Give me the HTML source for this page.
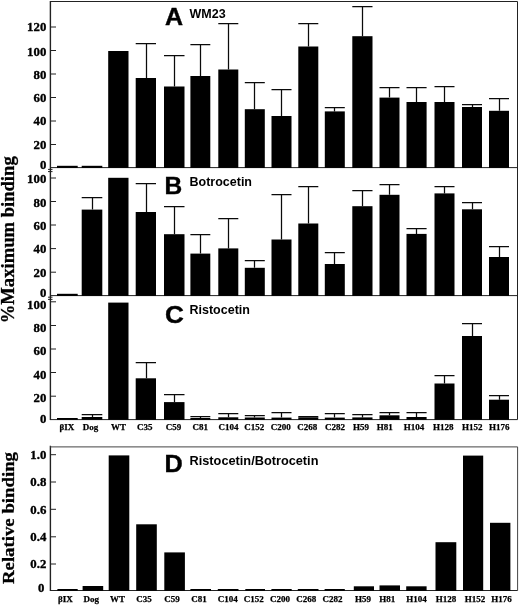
<!DOCTYPE html>
<html><head><meta charset="utf-8"><title>Figure</title>
<style>html,body{margin:0;padding:0;background:#fff}svg{display:block}</style></head>
<body>
<svg width="520" height="605" viewBox="0 0 520 605">
<rect width="520" height="605" fill="#fff"/>
<g stroke="#222" stroke-width="1" fill="none">
<path d="M50.4 1 V420 M50.4 445.8 V591" stroke-width="1.4"/>
<path d="M50 1.5 H517.5 V419.6 H50"/>
<path d="M50 167.6 H517.5 M50 295.6 H517.5"/>
<path d="M50 446.9 H517.6 V590.5" stroke="#444"/>
<path d="M50 590.5 H517.6"/>
<path d="M50 27 H56 M50 50.5 H56 M50 74 H56 M50 97.5 H56 M50 121 H56 M50 144.5 H56 "/>
<path d="M50 178 H56 M50 201.5 H56 M50 225 H56 M50 248.6 H56 M50 272.2 H56 "/>
<path d="M50 301.8 H56 M50 325.5 H56 M50 349 H56 M50 372.5 H56 M50 396.2 H56 "/>
<path d="M50 454.7 H56 M50 482 H56 M50 509.3 H56 M50 536.8 H56 M50 564 H56 "/>
<path d="M48 169.4 H52.5 M48 171.6 H52.5 M48 297.2 H52.5 M48 299.4 H52.5"/>
</g>
<g fill="#000">
<rect x="57" y="165.8" width="20.7" height="2.1"/>
<rect x="81.7" y="165.8" width="20.6" height="2.1"/>
<rect x="108.2" y="51" width="20.3" height="116.9"/>
<rect x="135.7" y="78" width="20.3" height="89.9"/>
<rect x="164" y="86.5" width="20.5" height="81.4"/>
<rect x="190.4" y="76" width="19.9" height="91.9"/>
<rect x="218.3" y="69.5" width="20.0" height="98.4"/>
<rect x="244.8" y="109.2" width="20.0" height="58.7"/>
<rect x="271.5" y="116" width="20.0" height="51.9"/>
<rect x="298.3" y="46.5" width="20.0" height="121.4"/>
<rect x="324.8" y="111.4" width="20.0" height="56.5"/>
<rect x="352.3" y="36.2" width="20.2" height="131.7"/>
<rect x="379.5" y="97.6" width="20.0" height="70.3"/>
<rect x="406.5" y="102" width="20.1" height="65.9"/>
<rect x="434.5" y="102" width="20.0" height="65.9"/>
<rect x="462" y="107" width="20.0" height="60.9"/>
<rect x="489" y="110.8" width="20.0" height="57.1"/>
<rect x="57" y="293.8" width="20.7" height="2.1"/>
<rect x="81.7" y="209.6" width="20.6" height="86.3"/>
<rect x="108.2" y="177.8" width="20.3" height="118.1"/>
<rect x="135.7" y="212" width="20.3" height="83.9"/>
<rect x="164" y="234.2" width="20.5" height="61.7"/>
<rect x="190.4" y="253.6" width="19.9" height="42.3"/>
<rect x="218.3" y="248.4" width="20.0" height="47.5"/>
<rect x="244.8" y="267.8" width="20.0" height="28.1"/>
<rect x="271.5" y="239.5" width="20.0" height="56.4"/>
<rect x="298.3" y="223.5" width="20.0" height="72.4"/>
<rect x="324.8" y="264" width="20.0" height="31.9"/>
<rect x="352.3" y="206.2" width="20.2" height="89.7"/>
<rect x="379.5" y="194.8" width="20.0" height="101.1"/>
<rect x="406.5" y="233.9" width="20.1" height="62.0"/>
<rect x="434.5" y="193.4" width="20.0" height="102.5"/>
<rect x="462" y="209.3" width="20.0" height="86.6"/>
<rect x="489" y="257" width="20.0" height="38.9"/>
<rect x="57" y="418" width="20.7" height="1.8"/>
<rect x="81.7" y="417" width="20.6" height="2.8"/>
<rect x="108.2" y="302.6" width="20.3" height="117.2"/>
<rect x="135.7" y="378.3" width="20.3" height="41.5"/>
<rect x="164" y="402.1" width="20.5" height="17.7"/>
<rect x="190.4" y="418" width="19.9" height="1.8"/>
<rect x="218.3" y="417.3" width="20.0" height="2.5"/>
<rect x="244.8" y="417.5" width="20.0" height="2.3"/>
<rect x="271.5" y="417.6" width="20.0" height="2.2"/>
<rect x="298.3" y="417.3" width="20.0" height="2.5"/>
<rect x="324.8" y="417.6" width="20.0" height="2.2"/>
<rect x="352.3" y="417.4" width="20.2" height="2.4"/>
<rect x="379.5" y="415.3" width="20.0" height="4.5"/>
<rect x="406.5" y="417" width="20.1" height="2.8"/>
<rect x="434.5" y="383.5" width="20.0" height="36.3"/>
<rect x="462" y="336" width="20.0" height="83.8"/>
<rect x="489" y="399.7" width="20.0" height="20.1"/>
<rect x="57.4" y="589" width="20.3" height="1.8"/>
<rect x="82.6" y="586" width="20.6" height="4.8"/>
<rect x="108.7" y="455.4" width="20.6" height="135.4"/>
<rect x="136.2" y="524.3" width="20.6" height="66.5"/>
<rect x="164.3" y="552.4" width="20.6" height="38.4"/>
<rect x="190.4" y="589" width="20.6" height="1.8"/>
<rect x="217.8" y="589" width="20.7" height="1.8"/>
<rect x="245.3" y="589" width="19.7" height="1.8"/>
<rect x="271.4" y="589" width="20.3" height="1.8"/>
<rect x="297.8" y="589" width="20.7" height="1.8"/>
<rect x="324.6" y="589" width="20.2" height="1.8"/>
<rect x="353.8" y="586.3" width="20.2" height="4.5"/>
<rect x="379.5" y="585.4" width="20.5" height="5.4"/>
<rect x="406.2" y="586.3" width="20.4" height="4.5"/>
<rect x="435.5" y="542.2" width="20.8" height="48.6"/>
<rect x="463" y="455.6" width="20.2" height="135.2"/>
<rect x="490" y="522.8" width="20.4" height="68.0"/>
</g>
<g stroke="#0a0a0a" stroke-width="1.25" fill="none">
<path d="M135.7 43.5 H156 M146.5 43.5 V78"/>
<path d="M164 55.5 H184.5 M174.5 55.5 V86.5"/>
<path d="M190.4 44.5 H210.3 M200.5 44.5 V76"/>
<path d="M218.3 23.5 H238.3 M228.5 23.5 V69.5"/>
<path d="M244.8 82.5 H264.8 M254.5 82.5 V109.2"/>
<path d="M271.5 89.5 H291.5 M281.5 89.5 V116"/>
<path d="M298.3 23.5 H318.3 M308.5 23.5 V46.5"/>
<path d="M324.8 107.5 H344.8 M334.5 107.5 V111.4"/>
<path d="M352.3 6.5 H372.5 M362.5 6.5 V36.2"/>
<path d="M379.5 87.5 H399.5 M389.5 87.5 V97.6"/>
<path d="M406.5 87.5 H426.6 M416.5 87.5 V102"/>
<path d="M434.5 86.5 H454.5 M444.5 86.5 V102"/>
<path d="M462 104.5 H482 M472.5 104.5 V107"/>
<path d="M489 98.5 H509 M499.5 98.5 V110.8"/>
<path d="M81.7 197.5 H102.3 M92.5 197.5 V209.6"/>
<path d="M135.7 183.5 H156 M146.5 183.5 V212"/>
<path d="M164 206.5 H184.5 M174.5 206.5 V234.2"/>
<path d="M190.4 234.5 H210.3 M200.5 234.5 V253.6"/>
<path d="M218.3 218.5 H238.3 M228.5 218.5 V248.4"/>
<path d="M244.8 260.5 H264.8 M254.5 260.5 V267.8"/>
<path d="M271.5 194.5 H291.5 M281.5 194.5 V239.5"/>
<path d="M298.3 186.5 H318.3 M308.5 186.5 V223.5"/>
<path d="M324.8 252.5 H344.8 M334.5 252.5 V264"/>
<path d="M352.3 190.5 H372.5 M362.5 190.5 V206.2"/>
<path d="M379.5 184.5 H399.5 M389.5 184.5 V194.8"/>
<path d="M406.5 228.5 H426.6 M416.5 228.5 V233.9"/>
<path d="M434.5 186.5 H454.5 M444.5 186.5 V193.4"/>
<path d="M462 202.5 H482 M472.5 202.5 V209.3"/>
<path d="M489 246.5 H509 M499.5 246.5 V257"/>
<path d="M81.7 414.5 H102.3 M92.5 414.5 V417"/>
<path d="M135.7 362.5 H156 M146.5 362.5 V378.3"/>
<path d="M164 394.5 H184.5 M174.5 394.5 V402.1"/>
<path d="M190.4 416.5 H210.3 M200.5 416.5 V418"/>
<path d="M218.3 413.5 H238.3 M228.5 413.5 V417.3"/>
<path d="M244.8 415.5 H264.8 M254.5 415.5 V417.5"/>
<path d="M271.5 412.5 H291.5 M281.5 412.5 V417.6"/>
<path d="M298.3 416.5 H318.3 M308.5 416.5 V417.3"/>
<path d="M324.8 413.5 H344.8 M334.5 413.5 V417.6"/>
<path d="M352.3 414.5 H372.5 M362.5 414.5 V417.4"/>
<path d="M379.5 412.5 H399.5 M389.5 412.5 V415.3"/>
<path d="M406.5 412.5 H426.6 M416.5 412.5 V417"/>
<path d="M434.5 375.5 H454.5 M444.5 375.5 V383.5"/>
<path d="M462 323.5 H482 M472.5 323.5 V336"/>
<path d="M489 395.5 H509 M499.5 395.5 V399.7"/>
</g>
<g font-family="'Liberation Serif', serif" font-weight="bold" font-size="12.8" text-anchor="end" fill="#000" stroke="#000" stroke-width="0.35">
<text x="46.3" y="30.7">120</text>
<text x="46.3" y="55.5">100</text>
<text x="46.3" y="78.7">80</text>
<text x="46.3" y="102.1">60</text>
<text x="46.3" y="125.3">40</text>
<text x="46.3" y="149.1">20</text>
<text x="46.3" y="169.4">0</text>
<text x="46.3" y="182.8">100</text>
<text x="46.3" y="206.5">80</text>
<text x="46.3" y="230.3">60</text>
<text x="46.3" y="252.9">40</text>
<text x="46.3" y="277.1">20</text>
<text x="46.3" y="297.3">0</text>
<text x="46.3" y="308.8">100</text>
<text x="46.3" y="331.5">80</text>
<text x="46.3" y="354.9">60</text>
<text x="46.3" y="378.6">40</text>
<text x="46.3" y="402.0">20</text>
<text x="46.3" y="423.3">0</text>
<text x="46.3" y="459.1">1.0</text>
<text x="46.3" y="486.3">0.8</text>
<text x="46.3" y="513.6">0.6</text>
<text x="46.3" y="541.1">0.4</text>
<text x="46.3" y="568.3">0.2</text>
<text x="44.3" y="592.2">0</text>
</g>
<g font-family="'Liberation Serif', serif" font-weight="bold" font-size="9" text-anchor="middle" fill="#000" stroke="#000" stroke-width="0.25">
<text x="66.9" y="430.3">βIX</text>
<text x="90.4" y="430.3">Dog</text>
<text x="118.4" y="430.3">WT</text>
<text x="144.7" y="430.3">C35</text>
<text x="173.4" y="430.3">C59</text>
<text x="200.3" y="430.3">C81</text>
<text x="228.4" y="430.3">C104</text>
<text x="254.2" y="430.3">C152</text>
<text x="280.8" y="430.3">C200</text>
<text x="307.2" y="430.3">C268</text>
<text x="335" y="430.3">C282</text>
<text x="361.1" y="430.3">H59</text>
<text x="384.8" y="430.3">H81</text>
<text x="414" y="430.3">H104</text>
<text x="443.2" y="430.3">H128</text>
<text x="472.2" y="430.3">H152</text>
<text x="499.2" y="430.3">H176</text>
<text x="65.4" y="602">βIX</text>
<text x="91.2" y="602">Dog</text>
<text x="117.4" y="602">WT</text>
<text x="143.9" y="602">C35</text>
<text x="171.9" y="602">C59</text>
<text x="198.9" y="602">C81</text>
<text x="227.7" y="602">C104</text>
<text x="253.7" y="602">C152</text>
<text x="280" y="602">C200</text>
<text x="306.2" y="602">C268</text>
<text x="332.5" y="602">C282</text>
<text x="363" y="602">H59</text>
<text x="387.2" y="602">H81</text>
<text x="416.5" y="602">H104</text>
<text x="446" y="602">H128</text>
<text x="475" y="602">H152</text>
<text x="501.6" y="602">H176</text>
</g>
<g font-family="'Liberation Sans', sans-serif" font-weight="bold" fill="#000">
<text transform="translate(165.0 25) scale(1.05 1)" font-size="23.8" stroke="#000" stroke-width="0.4">A</text>
<text x="189.5" y="17.7" font-size="12.5">WM23</text>
<text transform="translate(164.6 193.6) scale(1.03 1)" font-size="23.8" stroke="#000" stroke-width="0.4">B</text>
<text x="189.5" y="186.2" font-size="12.5">Botrocetin</text>
<text transform="translate(164.9 322.8) scale(1.1 1)" font-size="23.8" stroke="#000" stroke-width="0.4">C</text>
<text x="189.5" y="314.3" font-size="12.5">Ristocetin</text>
<text transform="translate(164.4 472) scale(1.06 1)" font-size="23.8" stroke="#000" stroke-width="0.4">D</text>
<text x="189.5" y="464.6" font-size="12.75">Ristocetin/Botrocetin</text>
</g>
<g font-family="'Liberation Serif', serif" fill="#000" stroke="#000" stroke-width="0.3">
<text transform="translate(14.3 323.3) rotate(-90)" font-size="18" font-weight="bold" textLength="167" lengthAdjust="spacingAndGlyphs">%Maximum binding</text>
<text transform="translate(13.8 584) rotate(-90)" font-size="17.5" font-weight="bold" textLength="132" lengthAdjust="spacingAndGlyphs">Relative binding</text>
</g>
</svg>
</body></html>
